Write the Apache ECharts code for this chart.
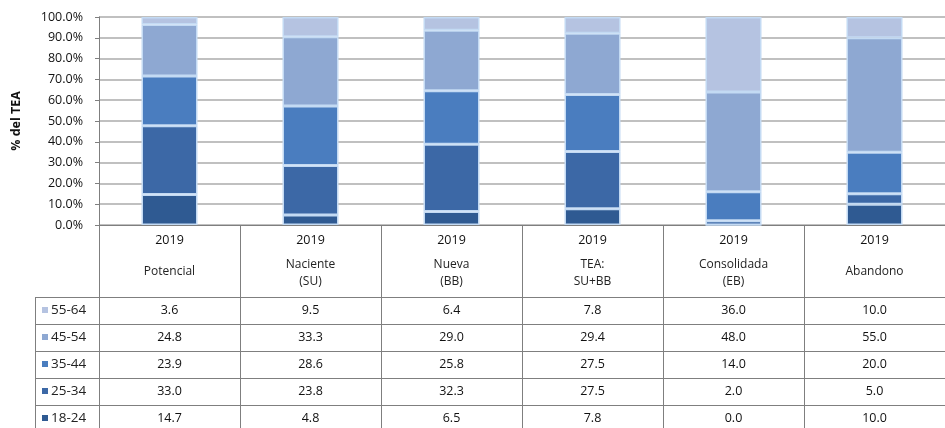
<!DOCTYPE html>
<html>
<head>
<meta charset="utf-8">
<script src="https://cdn.jsdelivr.net/npm/echarts@6/dist/echarts.min.js"></script>
<style>
html,body{margin:0;padding:0;background:#fff;}
#chart{width:945px;height:428px;}
</style>
</head>
<body>
<div id="chart"></div>
<script>
// ---- data ----
const categories = ['Potencial', 'Naciente\n(SU)', 'Nueva\n(BB)', 'TEA:\nSU+BB', 'Consolidada\n(EB)', 'Abandono'];
const years = ['2019', '2019', '2019', '2019', '2019', '2019'];
const seriesNames = ['18-24', '25-34', '35-44', '45-54', '55-64'];
const s18_24 = [14.7, 4.8, 6.5, 7.8, 0.0, 10.0];
const s25_34 = [33.0, 23.8, 32.3, 27.5, 2.0, 5.0];
const s35_44 = [23.9, 28.6, 25.8, 27.5, 14.0, 20.0];
const s45_54 = [24.8, 33.3, 29.0, 29.4, 48.0, 55.0];
const s55_64 = [3.6, 9.5, 6.4, 7.8, 36.0, 10.0];
const yMin = 0, yMax = 100, yInterval = 10;

const seriesData = [s18_24, s25_34, s35_44, s45_54, s55_64];
const colors = ['#2f5a92', '#3c68a6', '#4a7dbf', '#8ea8d2', '#b5c3e1'];
const FONT = '"Open Sans", Lato, sans-serif';

const chart = echarts.init(document.getElementById('chart'));

const gridLeft = 99, gridTop = 17, gridBottomY = 225, W = 945;
const rowTop = 297, rowH = 27;
const legendOrder = seriesNames.slice().reverse();

const option = {
  animation: false,
  textStyle: {fontFamily: FONT},
  grid: {left: gridLeft, top: gridTop, right: 0, height: gridBottomY - gridTop, containLabel: false},
  legend: {
    orient: 'vertical',
    left: 42,
    top: rowTop + 4,
    padding: 0,
    height: 200,
    itemWidth: 6,
    itemHeight: 6,
    icon: 'rect',
    itemGap: 9,
    data: legendOrder,
    itemStyle: {borderWidth: 0},
    textStyle: {fontSize: 13.5, color: '#222', fontFamily: FONT, lineHeight: 18, padding: [0, 0, 0, -2]},
    selectedMode: false
  },
  xAxis: {
    type: 'category',
    data: categories,
    axisLine: {show: true, lineStyle: {color: '#7f7f7f', width: 1}},
    axisTick: {show: true, length: 428 - gridBottomY, inside: false, interval: 0, lineStyle: {color: '#7f7f7f', width: 1}},
    axisLabel: {show: false},
    splitLine: {show: false}
  },
  yAxis: {
    type: 'value',
    min: yMin, max: yMax, interval: yInterval,
    name: '% del TEA',
    nameLocation: 'middle',
    nameGap: 76,
    nameTextStyle: {fontSize: 12.5, fontWeight: 'bold', color: '#111', fontFamily: FONT},
    axisLine: {show: true, lineStyle: {color: '#7f7f7f', width: 1}},
    axisTick: {show: true, length: 4, lineStyle: {color: '#7f7f7f'}},
    axisLabel: {fontSize: 12.5, color: '#111', margin: 16, formatter: v => v.toFixed(1) + '%', fontFamily: FONT},
    splitLine: {show: true, lineStyle: {color: '#ababab', width: 1.5}}
  },
  series: seriesNames.map((n, i) => ({
    name: n,
    type: 'bar',
    stack: 'total',
    barWidth: 56,
    data: seriesData[i],
    itemStyle: {color: colors[i], borderColor: '#c3daf3', borderWidth: 1.5}
  }))
};
chart.setOption(option);

// ---- data table drawn below the plot ----
const g = [];
const cx = categories.map((c, i) => chart.convertToPixel({xAxisIndex: 0}, i));
categories.forEach((c, i) => {
  g.push({type: 'text', x: cx[i], y: 240, style: {text: years[i], fill: '#111', align: 'center', verticalAlign: 'middle', font: '12.5px ' + FONT}});
  const lines = c.split('\n');
  const lh = 17;
  const y0 = lines.length === 1 ? 272 : 265;
  lines.forEach((ln, k) => {
    g.push({type: 'text', x: cx[i], y: y0 + k * lh, style: {text: ln, fill: '#222', align: 'center', verticalAlign: 'middle', font: '12px ' + FONT}});
  });
});
legendOrder.forEach((n, r) => {
  const vals = seriesData[seriesNames.indexOf(n)];
  vals.forEach((v, i) => {
    g.push({type: 'text', x: cx[i], y: rowTop + r * rowH + rowH / 2, style: {text: v.toFixed(1), fill: '#111', align: 'center', verticalAlign: 'middle', font: '12.5px ' + FONT}});
  });
});
for (let r = 0; r < legendOrder.length; r++) {
  const y = rowTop + r * rowH + 0.5;
  g.push({type: 'line', shape: {x1: 35, y1: y, x2: W, y2: y}, style: {stroke: '#7f7f7f', lineWidth: 1}});
}
g.push({type: 'line', shape: {x1: 35.5, y1: rowTop, x2: 35.5, y2: 428}, style: {stroke: '#7f7f7f', lineWidth: 1}});
chart.setOption({graphic: g});
</script>
</body>
</html>
